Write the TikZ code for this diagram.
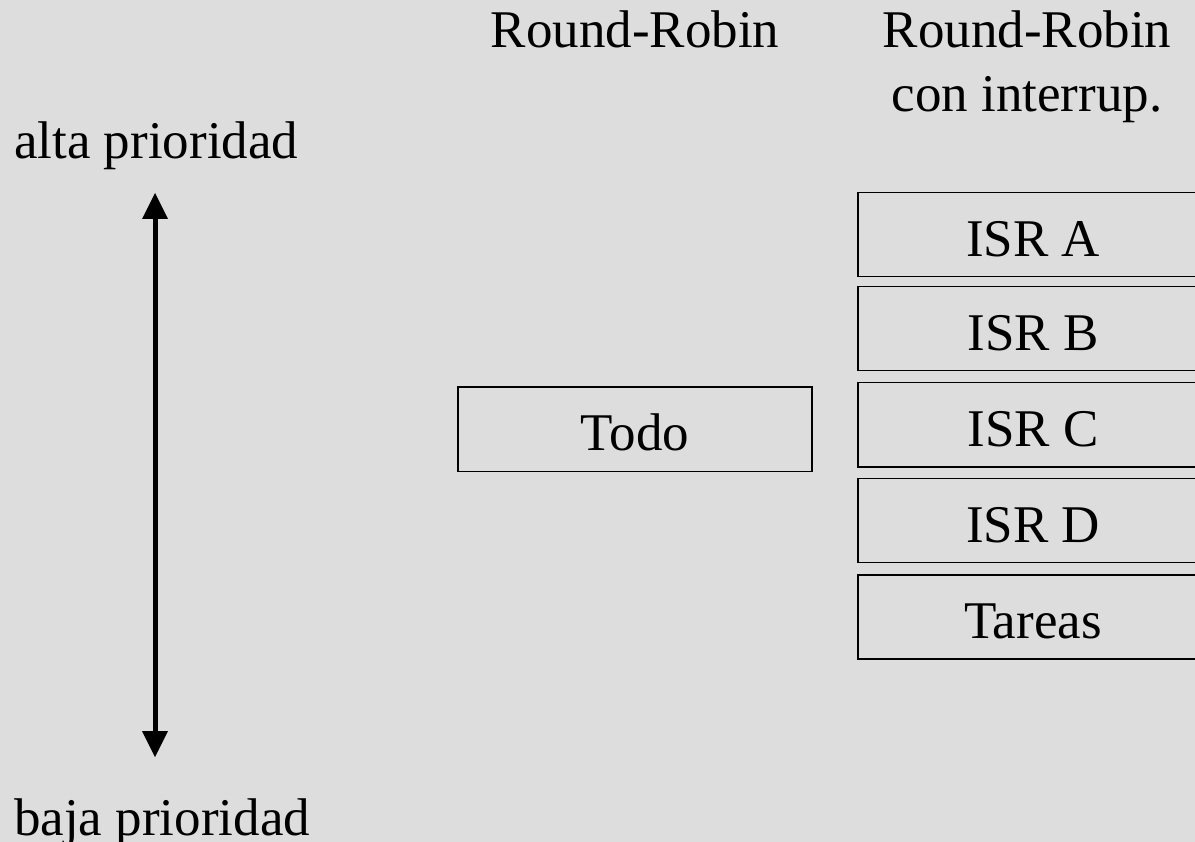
\documentclass[tikz,border=0pt]{standalone}
\usepackage{fontspec}
\setmainfont{Liberation Serif}
\usetikzlibrary{arrows.meta}
\definecolor{bg}{RGB}{221,221,221}
\begin{document}
\begin{tikzpicture}[x=1pt,y=-1pt,
  every node/.style={font=\fontsize{53}{64}\selectfont, inner sep=0pt},
  lbl/.style={anchor=base},
  blk/.style={draw=black, line width=1.6pt, text height=43pt, text depth=0pt, minimum height=84pt},
  isr/.style={blk, minimum width=350pt},
  prio/.style={line width=5pt, {Triangle[width=26pt,length=26pt,line width=0pt]}-{Triangle[width=26pt,length=26pt,line width=0pt]}}]
\useasboundingbox (0,0) rectangle (1195,842);
\fill[bg] (0,0) rectangle (1195,842);
\clip (0,0) rectangle (1195,842);
% headers
\node[lbl] (rr) at (635,48) {Round-Robin};
\node[lbl, align=center] (rri) at (1027,112) {Round-Robin\\con interrup.};
% priority labels
\node[anchor=base west] (alta) at (14,159) {alta prioridad};
\node[anchor=base west] (baja) at (14,835) {baja prioridad};
% priority arrow
\coordinate (top) at (155,193);
\coordinate (bot) at (155,757);
\draw[prio] (bot) -- (top);
% round-robin
\node[blk, minimum width=354pt] (todo) at (635,429.3) {Todo};
% round-robin with interrupts
\node[isr] (a) at (1033,234.6) {ISR A};
\node[isr] (b) at (1033,328.7) {ISR B};
\node[isr] (c) at (1033,424.7) {ISR C};
\node[isr] (d) at (1033,520.5) {ISR D};
\node[isr] (t) at (1033,616.7) {Tareas};
\end{tikzpicture}
\end{document}
